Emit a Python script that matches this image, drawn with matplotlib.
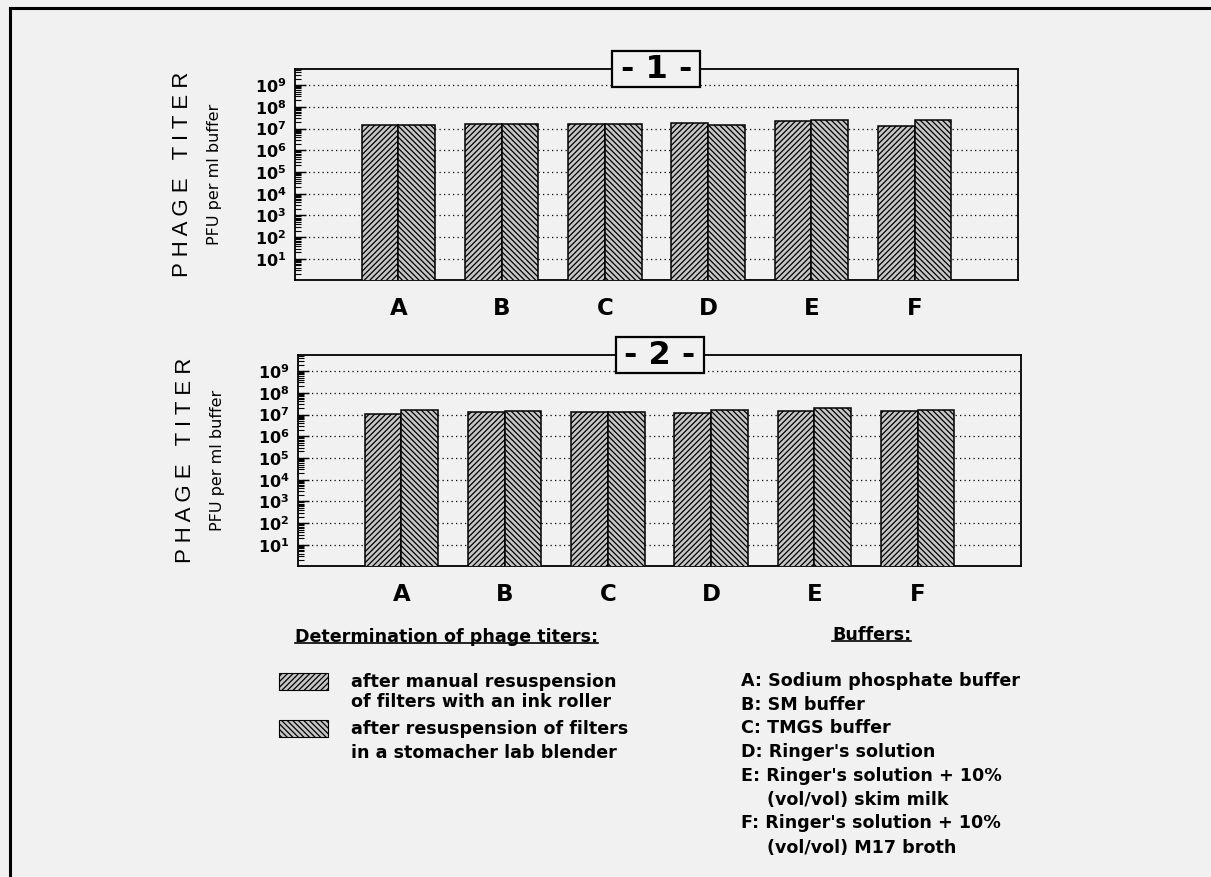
import matplotlib
matplotlib.use("Agg")
import matplotlib.pyplot as plt
from matplotlib.patches import Rectangle
from matplotlib.lines import Line2D
from matplotlib.ticker import LogLocator, NullFormatter, FixedLocator

# ---- data -------------------------------------------------------------
buffers = ["A", "B", "C", "D", "E", "F"]
# phage titers (PFU per ml buffer), experiment 1
exp1_ink_roller = [1.5e7, 1.7e7, 1.65e7, 1.8e7, 2.2e7, 1.37e7]
exp1_stomacher = [1.5e7, 1.7e7, 1.7e7, 1.4e7, 2.6e7, 2.5e7]
# experiment 2
exp2_ink_roller = [1.08e7, 1.27e7, 1.27e7, 1.2e7, 1.5e7, 1.5e7]
exp2_stomacher = [1.7e7, 1.5e7, 1.27e7, 1.64e7, 1.9e7, 1.6e7]
decades = [1, 2, 3, 4, 5, 6, 7, 8, 9]
method_labels = [
    ["after manual resuspension", "of filters with an ink roller"],
    ["after resuspension of filters", "in a stomacher lab blender"],
]
buffer_lines = [
    ("A: Sodium phosphate buffer", 0),
    ("B: SM buffer", 0),
    ("C: TMGS buffer", 0),
    ("D: Ringer's solution", 0),
    ("E: Ringer's solution + 10%", 0),
    ("(vol/vol) skim milk", 1),
    ("F: Ringer's solution + 10%", 0),
    ("(vol/vol) M17 broth", 1),
]

# ---- style ------------------------------------------------------------
W, H = 1211, 877
BG = "#f1f1f1"
BAR_FACE = "#c6c6c6"
HATCH_FWD = "/" * 6
HATCH_BACK = "\\" * 6
plt.rcParams["font.family"] = ["DejaVu Sans"]
plt.rcParams["mathtext.fontset"] = "dejavusans"
plt.rcParams["hatch.linewidth"] = 0.9
plt.rcParams["hatch.color"] = "black"


def fx(x):
    return x / W


def fy(y):
    return 1 - y / H


fig = plt.figure(figsize=(W / 100, H / 100), dpi=100, facecolor=BG)

# outer frame
fig.add_artist(Line2D([fx(10), fx(10)], [fy(8), fy(880)], color="black", lw=2.2))
fig.add_artist(Line2D([fx(10), fx(1211)], [fy(8), fy(8)], color="black", lw=2.2))


def panel(rect, ink, stom, tag):
    ax = fig.add_axes(rect, facecolor=BG)
    ax.set_yscale("log")
    ax.set_ylim(10 ** 0.03, 10 ** 9.74)
    ax.set_xlim(-1, 6)
    w = 0.355
    xs = list(range(len(buffers)))
    ax.bar([x - w / 2 for x in xs], ink, width=w, bottom=1, facecolor=BAR_FACE,
           edgecolor="black", linewidth=1.1, hatch=HATCH_FWD, zorder=3)
    ax.bar([x + w / 2 for x in xs], stom, width=w, bottom=1, facecolor=BAR_FACE,
           edgecolor="black", linewidth=1.1, hatch=HATCH_BACK, zorder=3)

    ax.yaxis.set_major_locator(FixedLocator([10.0 ** d for d in decades]))
    ax.set_yticklabels([r"$\mathbf{10}^{\mathbf{%d}}$" % d for d in decades])
    ax.yaxis.set_minor_locator(LogLocator(base=10, subs=range(2, 10), numticks=30))
    ax.yaxis.set_minor_formatter(NullFormatter())
    ax.tick_params(axis="y", which="major", direction="in", length=8, width=1,
                   labelsize=11.5, pad=6)
    ax.tick_params(axis="y", which="minor", direction="in", length=4, width=0.8)
    ax.grid(True, axis="y", which="major", color="black", lw=0.9,
            linestyle=(0, (1, 2.6)))
    ax.set_axisbelow(True)

    ax.set_xticks(xs)
    ax.set_xticklabels(buffers, fontsize=16.5, fontweight="bold")
    ax.tick_params(axis="x", length=0, pad=12)
    for s in ax.spines.values():
        s.set_linewidth(1.3)

    ax.text(-0.155, 0.5, "P H A G E   T I T E R", transform=ax.transAxes,
            rotation=90, ha="center", va="center", fontsize=16,
            family="Liberation Sans")
    ax.text(-0.111, 0.5, "PFU per ml buffer", transform=ax.transAxes,
            rotation=90, ha="center", va="center", fontsize=11.5)

    # numbered tag sitting on the top spine
    x0, y0, wd, ht = rect
    cx = x0 + wd / 2
    ty = y0 + ht
    bw, bh = 88 / W, 36 / H
    fig.add_artist(Rectangle((cx - bw / 2, ty - bh / 2), bw, bh,
                             transform=fig.transFigure, facecolor=BG,
                             edgecolor="black", lw=1.6, zorder=10))
    fig.text(cx, ty, "- %s -" % tag, ha="center", va="center", fontsize=23,
             fontweight="bold", zorder=11)
    return ax


panel([fx(295), fy(280), (1018 - 295) / W, (280 - 69) / H],
      exp1_ink_roller, exp1_stomacher, "1")
panel([fx(298), fy(566), (1021 - 298) / W, (566 - 355) / H],
      exp2_ink_roller, exp2_stomacher, "2")

# ---- key ------------------------------------------------------------------
TXT = dict(fontsize=12.6, fontweight="bold", va="center", ha="left")
h1 = fig.text(fx(295), fy(637), "Determination of phage titers:", **TXT)
h2 = fig.text(fx(832), fy(635), "Buffers:", **TXT)

hatches = [HATCH_FWD, HATCH_BACK]
sw_top = [673, 720]
line_y = [[682, 702], [729, 753]]
for hatch, top, (l1, l2), ys in zip(hatches, sw_top, method_labels, line_y):
    fig.add_artist(Rectangle((fx(279), fy(top + 17)), 49 / W, 17 / H,
                             transform=fig.transFigure, facecolor=BAR_FACE,
                             edgecolor="black", lw=0.8, hatch=hatch))
    fig.text(fx(351), fy(ys[0]), l1, **TXT)
    fig.text(fx(351), fy(ys[1]), l2, **TXT)

buf_y = [681, 705, 728, 752, 776, 800, 823, 848]
for (line, indent), y in zip(buffer_lines, buf_y):
    fig.text(fx(767 if indent else 741), fy(y), line, **TXT)

# underline the two headings
fig.canvas.draw()
for t, uy in ((h1, 643), (h2, 641)):
    bb = t.get_window_extent()
    fig.add_artist(Line2D([bb.x0 / W, bb.x1 / W], [fy(uy), fy(uy)],
                          color="black", lw=1.2))

fig.savefig("out.png", dpi=100, facecolor=BG)
